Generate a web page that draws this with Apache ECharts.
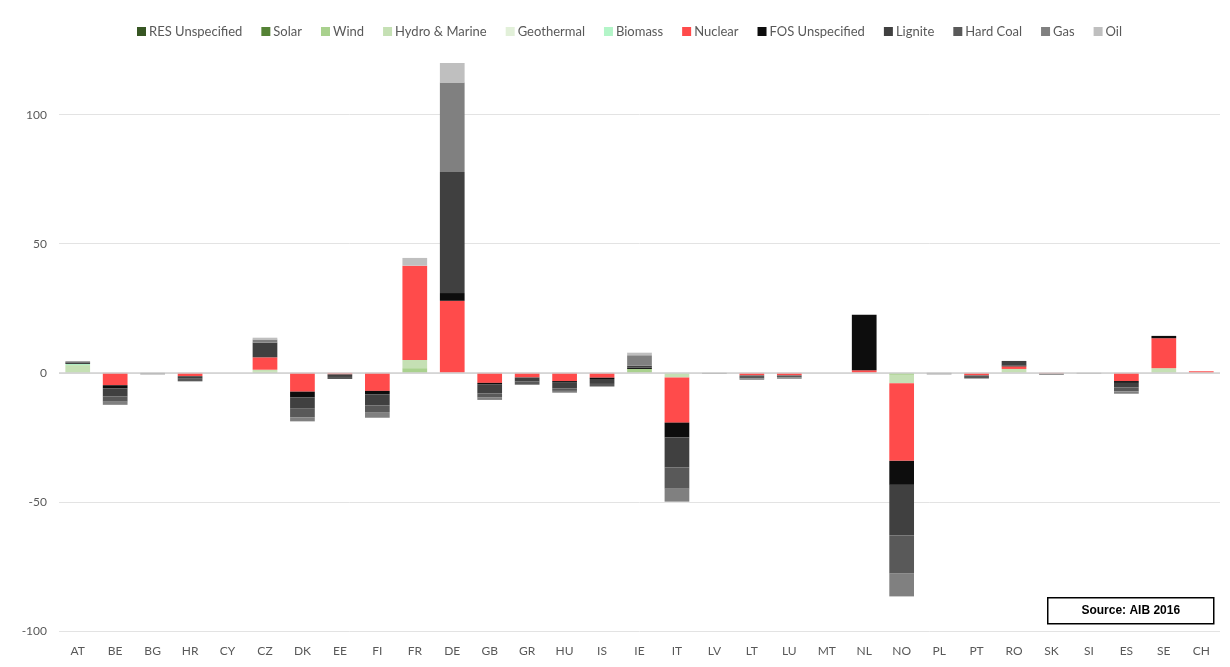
<!DOCTYPE html>
<html><head><meta charset="utf-8">
<script src="https://cdn.jsdelivr.net/npm/echarts@6/dist/echarts.min.js"></script>
<style>html,body{margin:0;padding:0;background:#fff}#c{width:1230px;height:667px}</style>
</head><body><div id="c"></div>
<script>
const categories = ['AT','BE','BG','HR','CY','CZ','DK','EE','FI','FR','DE','GB','GR','HU','IS','IE','IT','LV','LT','LU','MT','NL','NO','PL','PT','RO','SK','SI','ES','SE','CH'];
//                    AT   BE    BG   HR   CY  CZ   DK    EE   FI    FR   DE    GB   GR   HU   IS   IE   IT    LV   LT   LU  MT  NL   NO    PL   PT   RO  SK   SI   ES   SE   CH
const resUnspecified=[0,   0,    0,   0,   0,  0,   0,    0,   0,    0,   0,    0,   0,   0,   0,   0,   0,    0,   0,   0,  0,  0,   0,    0,   0,   0,  0,   0,   0,   0,   0];
const solar =        [0,   0,    0,   0,   0,  0,   0,    0,   0,    0,   0,    0,   0,   0,   0,   0,   0,    0,   0,   0,  0,  0,   0,    0,   0,   0,  0,   0,   0,   0,   0];
const wind =         [0,   0,    0,   0,   0,  0.5, 0,    0,   0,    1.8, 0,    0,   0,   0,   0,   1.5, 0,    0,   0,   0,  0,  0,   -0.8, 0,   0,   0,  0,   0,   0,   0,   0];
const hydro =        [3.0, 0,    0,   0,   0,  0.7, 0,    0,   0,    3.2, 0,    0,   0,   0,   0,   0,   -1.8, 0,   0,   0,  0,  0,   -3.2, 0,   0,   1.5,0,   0,   0,   1.8, 0];
const geothermal =   [0,   0,    0,   0,   0,  0,   0,    0,   0,    0,   0,    0,   0,   0,   0,   0,   0,    0,   0,   0,  0,  0,   0,    0,   0,   0,  0,   0,   0,   0,   0];
const biomass =      [0.4, 0,    0,   0,   0,  0,   0,    0,   0,    0,   0,    0,   0,   0,   0,   0,   0,    0,   0,   0,  0,  0,   0,    0,   0,   0,  0,   0,   0,   0,   0];
const nuclear =      [0,  -4.8,  0,  -1.3, 0,  4.8,-7.3, -0.6,-7.0,  36.5,27.9, -3.9,-1.8,-3.2,-1.9, 0,  -17.5, 0,  -1.0,-1.0, 0,  1.0, -30.1, 0,  -1.0, 1.0,-0.3, 0,  -3.2, 11.6,0.6];
const fosUnspecified=[0,  -1.2,  0,   0,   0,  0,  -2.2,  0,  -1.3,  0,   3.0,  -0.5, 0,  -0.4,-0.5, 0.5,-5.7,  0,   0,   0,  0,  21.5,-9.3,  0,   0,   0.3,0,   0,  -0.7, 0.9, 0];
const lignite =      [0.6,-3.2,  0,  -1.0, 0,  5.7,-4.4, -1.0,-4.3,  0,   46.9, -3.6,-1.6,-2.4,-1.9, 0.8,-11.6, 0,   0,   0,  0,  0,   -19.6, 0,   0,   1.8,0,   0,  -1.8, 0,   0];
const hardCoal =     [0.4,-2.0,  0,  -1.0, 0,  0,  -3.3, -0.8,-2.6,  0,   0,    -1.6,-1.2,-1.0,-1.0, 0,  -8.3,  0,  -1.2,-0.8, 0,  0,   -14.6,-0.3,-1.2, 0, -0.4, 0,  -1.5, 0,   0];
const gas =          [0,  -1.2, -0.6, 0,   0,  1.2,-1.6,  0,  -2.2,  0,   34.6, -0.9, 0,  -0.7, 0,   4.0,-5.0, -0.4,-0.5,-0.5, 0,  0,   -9.0, -0.3, 0,   0,  0,  -0.3,-0.9, 0,   0];
const oil =          [0,   0,    0,   0,   0,  0.7, 0,    0,   0,    3.0, 7.8,  0,   0,   0,   0,   1.0, 0,    0,   0,   0,  0,  0,   0,    0,   0,   0,  0,   0,   0,   0,   0];
const yTicks = [-100, -50, 0, 50, 100];

const seriesDefs = [
  ['RES Unspecified', resUnspecified, '#375623'],
  ['Solar', solar, '#548235'],
  ['Wind', wind, '#a9d18e'],
  ['Hydro & Marine', hydro, '#c5e0b4'],
  ['Geothermal', geothermal, '#e2f0d9'],
  ['Biomass', biomass, '#b3f5c8'],
  ['Nuclear', nuclear, '#ff4b4b'],
  ['FOS Unspecified', fosUnspecified, '#0d0d0d'],
  ['Lignite', lignite, '#404040'],
  ['Hard Coal', hardCoal, '#595959'],
  ['Gas', gas, '#808080'],
  ['Oil', oil, '#bfbfbf']
];

const chart = echarts.init(document.getElementById('c'), null, {renderer:'canvas'});
chart.setOption({
  animation: false,
  backgroundColor: '#fff',
  textStyle: {fontFamily: 'Lato'},
  legend: {
    top: 20, left: 132, itemWidth: 9, itemHeight: 9, itemGap: 19,
    icon: 'rect',
    textStyle: {fontFamily: 'Lato', fontSize: 13, color: '#595959', padding: [0,0,0,-2]},
    data: seriesDefs.map(s => s[0])
  },
  grid: {left: 59, right: 10, top: 63, bottom: 36},
  xAxis: {
    type: 'category', data: categories,
    axisLine: {show: false, onZero: false}, axisTick: {show: false},
    axisLabel: {fontFamily: 'Lato', fontSize: 12, color: '#595959', margin: 14}
  },
  yAxis: {
    type: 'value', min: yTicks[0], max: 120, interval: 50,
    axisLine: {show: false}, axisTick: {show: false},
    axisLabel: {fontFamily: 'Lato', fontSize: 12, color: '#595959', margin: 12, showMaxLabel: false},
    splitLine: {show: true, showMaxLine: false, lineStyle: {color: '#e3e3e3', width: 1}}
  },
  series: seriesDefs.map(s => ({
    name: s[0], type: 'bar', stack: 'total', data: s[1], barWidth: '66%',
    itemStyle: {color: s[2]}
  })).concat([{
    type: 'line', data: [], markLine: {
      silent: true, symbol: 'none', label: {show: false},
      lineStyle: {color: '#d0d0d0', width: 1.5, type: 'solid'},
      data: [{yAxis: 0}]
    }
  }]),
  graphic: [{
    type: 'group', left: 1047, top: 597, children: [
      {type: 'rect', shape: {x: 0, y: 0, width: 166, height: 26}, style: {fill: '#fff', stroke: '#000', lineWidth: 1.5}},
      {type: 'text', x: 83, y: 13, style: {text: 'Source: AIB 2016', font: 'bold 12px "Liberation Sans", Arial', fill: '#000', align: 'center', verticalAlign: 'middle'}}
    ]
  }]
});
</script></body></html>
